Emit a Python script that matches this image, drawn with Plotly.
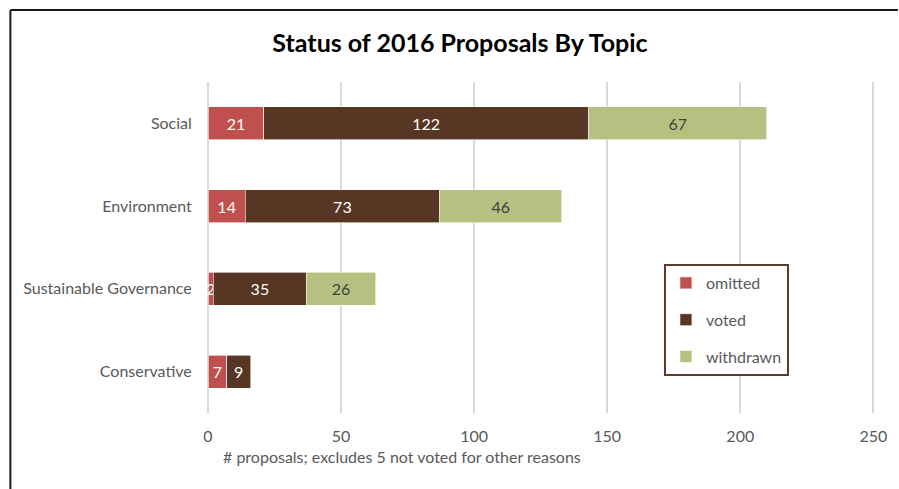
import plotly.graph_objects as go

# Proposal counts per topic, by status
topics = ["Social", "Environment", "Sustainable Governance", "Conservative"]
omitted = [21, 14, 2, 7]
voted = [122, 73, 35, 9]
withdrawn = [67, 46, 26, None]

x_ticks = [0, 50, 100, 150, 200, 250]

W, H = 899, 489
L, R, T, B = 208, 20, 82, 76
X_MAX = 251
FONT = "Lato"
GREY = "#595959"

series = [
    ("omitted", omitted, "#c0504d", "white"),
    ("voted", voted, "#573624", "white"),
    ("withdrawn", withdrawn, "#b5c180", "#404040"),
]

fig = go.Figure()
for name, vals, color, tcolor in series:
    fig.add_trace(go.Bar(
        name=name,
        y=topics,
        x=vals,
        orientation="h",
        marker=dict(color=color, line=dict(color="white", width=0.6)),
        text=[("" if v is None else str(v)) for v in vals],
        textposition="inside",
        insidetextanchor="middle",
        textangle=0,
        constraintext="none",
        textfont=dict(family=FONT, size=16, color=tcolor),
        legendgroup=name,
        cliponaxis=False,
    ))

# convert pixel positions on the page to paper coordinates of the plot area
pw, ph = W - L - R, H - T - B


def px_x(p):
    return (p - L) / pw


def px_y(p):
    return (H - B - p) / ph


fig.update_layout(
    width=W, height=H,
    margin=dict(l=L, r=R, t=T, b=B),
    paper_bgcolor="white", plot_bgcolor="white",
    barmode="stack",
    bargap=0.6,
    font=dict(family=FONT, size=16, color=GREY),
    title=dict(
        text="<b>Status of 2016 Proposals By Topic</b>",
        x=460 / W, xref="container", xanchor="center",
        y=1 - 43 / H, yref="container", yanchor="middle",
        font=dict(family=FONT, size=25, color="black"),
    ),
    xaxis=dict(
        range=[0, X_MAX], tickvals=x_ticks, ticktext=[str(t) for t in x_ticks],
        showgrid=True, gridcolor="#d9d9d9", gridwidth=1.5,
        zeroline=True, zerolinecolor="#d9d9d9", zerolinewidth=1.5,
        showline=False, ticks="outside", ticklen=9, tickcolor="rgba(0,0,0,0)",
        tickfont=dict(family=FONT, size=16, color=GREY),
        fixedrange=True,
    ),
    yaxis=dict(
        categoryorder="array", categoryarray=topics[::-1],
        showgrid=False, zeroline=False, showline=False,
        ticks="outside", ticklen=12, tickcolor="rgba(0,0,0,0)",
        tickfont=dict(family=FONT, size=16, color=GREY),
    ),
    legend=dict(
        x=px_x(666), y=px_y(264), xanchor="left", yanchor="top",
        bordercolor="#5b3a29", borderwidth=2, bgcolor="white",
        font=dict(family=FONT, size=16, color=GREY),
        traceorder="grouped", tracegroupgap=13,
        itemwidth=30,
    ),
    showlegend=True,
)

# axis caption below the tick labels
fig.add_annotation(
    text="# proposals; excludes 5 not voted for other reasons",
    x=px_x(403), y=px_y(456), xref="paper", yref="paper",
    xanchor="center", yanchor="middle", showarrow=False,
    font=dict(family=FONT, size=16, color=GREY),
)

# outer frame: top and left edges
fig.add_shape(type="line", xref="paper", yref="paper",
              x0=px_x(9.5), x1=px_x(W + 2), y0=px_y(10), y1=px_y(10),
              line=dict(color="#1a1a1a", width=2))
fig.add_shape(type="line", xref="paper", yref="paper",
              x0=px_x(9.5), x1=px_x(9.5), y0=px_y(10), y1=px_y(H + 2),
              line=dict(color="#1a1a1a", width=2))

fig.write_html("out.html")
